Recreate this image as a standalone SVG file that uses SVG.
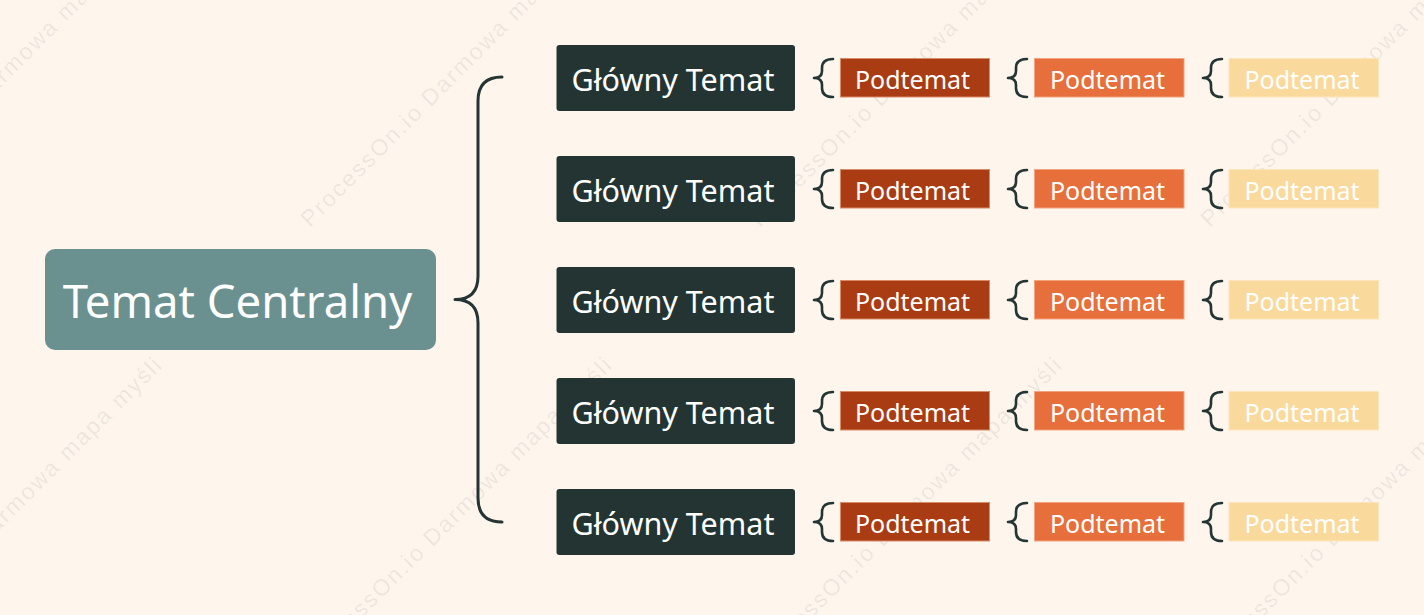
<svg xmlns="http://www.w3.org/2000/svg" width="1424" height="615" viewBox="0 0 1424 615">
<defs>
<style>
.wm{font-family:"Liberation Sans",Arial,sans-serif;font-size:23px;letter-spacing:2px;fill:#000;fill-opacity:0.075}
.center{fill:#6A9190}
.main{fill:#233433}
.s1{fill:#A93C13;stroke:#D88C6A;stroke-width:1}
.s2{fill:#E66F3B;stroke:#F2A47E;stroke-width:1}
.s3{fill:#FAD99D;stroke:#FCE5BC;stroke-width:1}
.t{font-family:"Noto Sans","Open Sans",sans-serif;fill:#FFFFFF;text-anchor:middle}
.tc{font-size:45.5px}
.tm{font-size:30.5px}
.ts{font-size:25px}
.br{fill:none;stroke:#243534;stroke-width:3;stroke-linecap:round;stroke-linejoin:round}
.bs{fill:none;stroke:#243534;stroke-width:2.6;stroke-linecap:round;stroke-linejoin:round}
</style>
<path id="sb" d="M19,1 C12,1 8,4 8,10 L8,13 C8,17 6,20 0,20 C6,20 8,23 8,27 L8,30 C8,36 12,39 19,39"/>
</defs>
<rect x="0" y="0" width="1424" height="615" fill="#FEF5ED"/>
<g id="watermarks">
<text class="wm" transform="translate(-140,228) rotate(-45)">ProcessOn.io Darmowa mapa myśli</text>
<text class="wm" transform="translate(310,228) rotate(-45)">ProcessOn.io Darmowa mapa myśli</text>
<text class="wm" transform="translate(760,228) rotate(-45)">ProcessOn.io Darmowa mapa myśli</text>
<text class="wm" transform="translate(1210,228) rotate(-45)">ProcessOn.io Darmowa mapa myśli</text>
<text class="wm" transform="translate(-138,668) rotate(-45)">ProcessOn.io Darmowa mapa myśli</text>
<text class="wm" transform="translate(312,668) rotate(-45)">ProcessOn.io Darmowa mapa myśli</text>
<text class="wm" transform="translate(762,668) rotate(-45)">ProcessOn.io Darmowa mapa myśli</text>
<text class="wm" transform="translate(1212,668) rotate(-45)">ProcessOn.io Darmowa mapa myśli</text>
</g>
<g id="connectors">
<path class="br" d="M502,77 C486,77 478,85 478,101 L478,276 C478,292 470,299.5 455,299.5 C470,299.5 478,307 478,323 L478,498 C478,514 486,522 502,522"/>
<use href="#sb" class="bs" x="814" y="58"/>
<use href="#sb" class="bs" x="1008" y="58"/>
<use href="#sb" class="bs" x="1203" y="58"/>
<use href="#sb" class="bs" x="814" y="169"/>
<use href="#sb" class="bs" x="1008" y="169"/>
<use href="#sb" class="bs" x="1203" y="169"/>
<use href="#sb" class="bs" x="814" y="280"/>
<use href="#sb" class="bs" x="1008" y="280"/>
<use href="#sb" class="bs" x="1203" y="280"/>
<use href="#sb" class="bs" x="814" y="391"/>
<use href="#sb" class="bs" x="1008" y="391"/>
<use href="#sb" class="bs" x="1203" y="391"/>
<use href="#sb" class="bs" x="814" y="502"/>
<use href="#sb" class="bs" x="1008" y="502"/>
<use href="#sb" class="bs" x="1203" y="502"/>
</g>
<g id="central">
<rect class="center" x="45" y="249" width="391" height="101" rx="10"/>
<text class="t tc" x="237.5" y="317.5">Temat Centralny</text>
</g>
<g id="main1"><rect class="main" x="556.5" y="45" width="238.5" height="66" rx="3"/><text class="t tm" x="673" y="90.5">Główny Temat</text></g>
<g id="main2"><rect class="main" x="556.5" y="156" width="238.5" height="66" rx="3"/><text class="t tm" x="673" y="201.5">Główny Temat</text></g>
<g id="main3"><rect class="main" x="556.5" y="267" width="238.5" height="66" rx="3"/><text class="t tm" x="673" y="312.5">Główny Temat</text></g>
<g id="main4"><rect class="main" x="556.5" y="378" width="238.5" height="66" rx="3"/><text class="t tm" x="673" y="423.5">Główny Temat</text></g>
<g id="main5"><rect class="main" x="556.5" y="489" width="238.5" height="66" rx="3"/><text class="t tm" x="673" y="534.5">Główny Temat</text></g>
<g id="sub1a"><rect class="s1" x="840.5" y="58.5" width="149" height="38.5"/><text class="t ts" x="912.5" y="89">Podtemat</text></g>
<g id="sub1b"><rect class="s2" x="1034.5" y="58.5" width="149.5" height="38.5"/><text class="t ts" x="1107.5" y="89">Podtemat</text></g>
<g id="sub1c"><rect class="s3" x="1229" y="58.5" width="149.5" height="38.5"/><text class="t ts" x="1302" y="89">Podtemat</text></g>
<g id="sub2a"><rect class="s1" x="840.5" y="169.5" width="149" height="38.5"/><text class="t ts" x="912.5" y="200">Podtemat</text></g>
<g id="sub2b"><rect class="s2" x="1034.5" y="169.5" width="149.5" height="38.5"/><text class="t ts" x="1107.5" y="200">Podtemat</text></g>
<g id="sub2c"><rect class="s3" x="1229" y="169.5" width="149.5" height="38.5"/><text class="t ts" x="1302" y="200">Podtemat</text></g>
<g id="sub3a"><rect class="s1" x="840.5" y="280.5" width="149" height="38.5"/><text class="t ts" x="912.5" y="311">Podtemat</text></g>
<g id="sub3b"><rect class="s2" x="1034.5" y="280.5" width="149.5" height="38.5"/><text class="t ts" x="1107.5" y="311">Podtemat</text></g>
<g id="sub3c"><rect class="s3" x="1229" y="280.5" width="149.5" height="38.5"/><text class="t ts" x="1302" y="311">Podtemat</text></g>
<g id="sub4a"><rect class="s1" x="840.5" y="391.5" width="149" height="38.5"/><text class="t ts" x="912.5" y="422">Podtemat</text></g>
<g id="sub4b"><rect class="s2" x="1034.5" y="391.5" width="149.5" height="38.5"/><text class="t ts" x="1107.5" y="422">Podtemat</text></g>
<g id="sub4c"><rect class="s3" x="1229" y="391.5" width="149.5" height="38.5"/><text class="t ts" x="1302" y="422">Podtemat</text></g>
<g id="sub5a"><rect class="s1" x="840.5" y="502.5" width="149" height="38.5"/><text class="t ts" x="912.5" y="533">Podtemat</text></g>
<g id="sub5b"><rect class="s2" x="1034.5" y="502.5" width="149.5" height="38.5"/><text class="t ts" x="1107.5" y="533">Podtemat</text></g>
<g id="sub5c"><rect class="s3" x="1229" y="502.5" width="149.5" height="38.5"/><text class="t ts" x="1302" y="533">Podtemat</text></g>
</svg>
